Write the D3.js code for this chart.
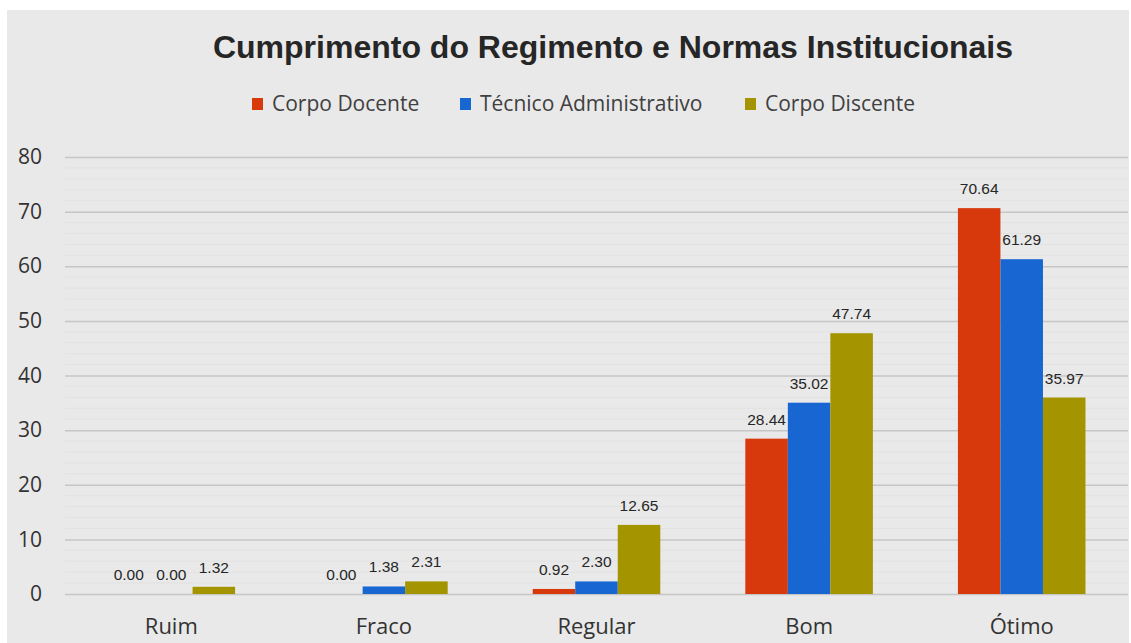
<!DOCTYPE html>
<html>
<head>
<meta charset="utf-8">
<script src="https://cdn.jsdelivr.net/npm/d3@7"></script>
<style>
  body { margin: 0; background: #fff; }
  svg { display: block; }
</style>
</head>
<body>
<div id="viz"></div>
<script>
const categories = ["Ruim", "Fraco", "Regular", "Bom", "Ótimo"];
const seriesNames = ["Corpo Docente", "Técnico Administrativo", "Corpo Discente"];
const docente = [0.00, 0.00, 0.92, 28.44, 70.64];
const tecnico = [0.00, 1.38, 2.30, 35.02, 61.29];
const discente = [1.32, 2.31, 12.65, 47.74, 35.97];
const yTicks = [0, 10, 20, 30, 40, 50, 60, 70, 80];
const colors = ["#d8390c", "#1766d2", "#a39400"];

const width = 1131,
  height = 643;

const margin = { top: 157, right: 3, bottom: 49, left: 65 };

const svg = d3
  .select("#viz")
  .append("svg")
  .attr("width", width)
  .attr("height", height);

// gray panel
svg
  .append("rect")
  .attr("x", 7)
  .attr("y", 10)
  .attr("width", 1122)
  .attr("height", height - 10)
  .attr("fill", "#e9e9e9");

svg
  .append("text")
  .attr("x", 613)
  .attr("y", 58)
  .attr("text-anchor", "middle")
  .style("font-family", "Liberation Sans, Arial, sans-serif")
  .style("font-weight", "bold")
  .style("font-size", "32px")
  .attr("fill", "#262626")
  .text("Cumprimento do Regimento e Normas Institucionais");

// legend
const legendX = [252, 460, 745];
const legend = svg
  .selectAll(".legend")
  .data(seriesNames)
  .enter()
  .append("g")
  .attr("class", "legend")
  .attr("transform", (d, i) => `translate(${legendX[i]}, 104)`);

legend
  .append("rect")
  .attr("x", 0)
  .attr("y", -6)
  .attr("width", 11)
  .attr("height", 12)
  .attr("fill", (d, i) => colors[i]);

legend
  .append("text")
  .attr("x", 20)
  .attr("y", 7)
  .style("font-family", "Open Sans, sans-serif")
  .style("font-size", "21px")
  .attr("fill", "#404040")
  .text(d => d);

const plotW = width - margin.left - margin.right;
const plotH = height - margin.top - margin.bottom;

const g = svg
  .append("g")
  .attr("transform", `translate(${margin.left}, ${margin.top})`);

const x0 = d3
  .scaleBand()
  .domain(categories)
  .range([0, plotW])
  .paddingInner(0.4)
  .paddingOuter(0.2);

const x1 = d3
  .scaleBand()
  .domain(seriesNames)
  .range([0, x0.bandwidth()]);

const yScale = d3
  .scaleLinear()
  .domain([0, 80])
  .range([plotH, 0]);

// faint minor lines
g.selectAll(".minor")
  .data(d3.range(0, 80, 2).filter(v => v % 10 !== 0))
  .enter()
  .append("line")
  .attr("x1", 0)
  .attr("x2", plotW)
  .attr("y1", d => yScale(d))
  .attr("y2", d => yScale(d))
  .attr("stroke", "#e2e2e2")
  .attr("stroke-width", 1);

const yAxis = d3
  .axisLeft(yScale)
  .tickValues(yTicks)
  .tickSize(-plotW)
  .tickPadding(23);

const axisLeftG = g.append("g").call(yAxis);
axisLeftG.select(".domain").remove();
axisLeftG
  .selectAll(".tick line")
  .attr("stroke", "#c6c6c6")
  .attr("stroke-width", 1.5);
axisLeftG
  .selectAll(".tick text")
  .style("font-family", "Open Sans, sans-serif")
  .style("font-size", "21px")
  .attr("fill", "#333");

const xAxis = d3.axisBottom(x0).tickSize(0).tickPadding(24);
const axisBottomG = g
  .append("g")
  .attr("transform", `translate(0, ${plotH})`)
  .call(xAxis);
axisBottomG.select(".domain").remove();
axisBottomG
  .selectAll(".tick text")
  .style("font-family", "Open Sans, sans-serif")
  .style("font-size", "22px")
  .attr("fill", "#333");

const rows = categories.map((c, i) => ({
  cat: c,
  vals: [docente[i], tecnico[i], discente[i]]
}));

const groups = g
  .selectAll(".grp")
  .data(rows)
  .enter()
  .append("g")
  .attr("transform", d => `translate(${x0(d.cat)}, 0)`);

groups
  .selectAll("rect")
  .data(d => d.vals.map((v, j) => ({ v: v, s: seriesNames[j], j: j })))
  .enter()
  .append("rect")
  .attr("x", d => x1(d.s))
  .attr("y", d => yScale(d.v))
  .attr("width", x1.bandwidth())
  .attr("height", d => plotH - yScale(d.v))
  .attr("fill", d => colors[d.j]);

groups
  .selectAll(".lbl")
  .data(d => d.vals.map((v, j) => ({ v: v, s: seriesNames[j] })))
  .enter()
  .append("text")
  .attr("class", "lbl")
  .attr("x", d => x1(d.s) + x1.bandwidth() / 2)
  .attr("y", d => yScale(d.v) - 14)
  .attr("text-anchor", "middle")
  .style("font-family", "Liberation Sans, Arial, sans-serif")
  .style("font-size", "15.5px")
  .attr("fill", "#262626")
  .text(d => d.v.toFixed(2));
</script>
</body>
</html>
